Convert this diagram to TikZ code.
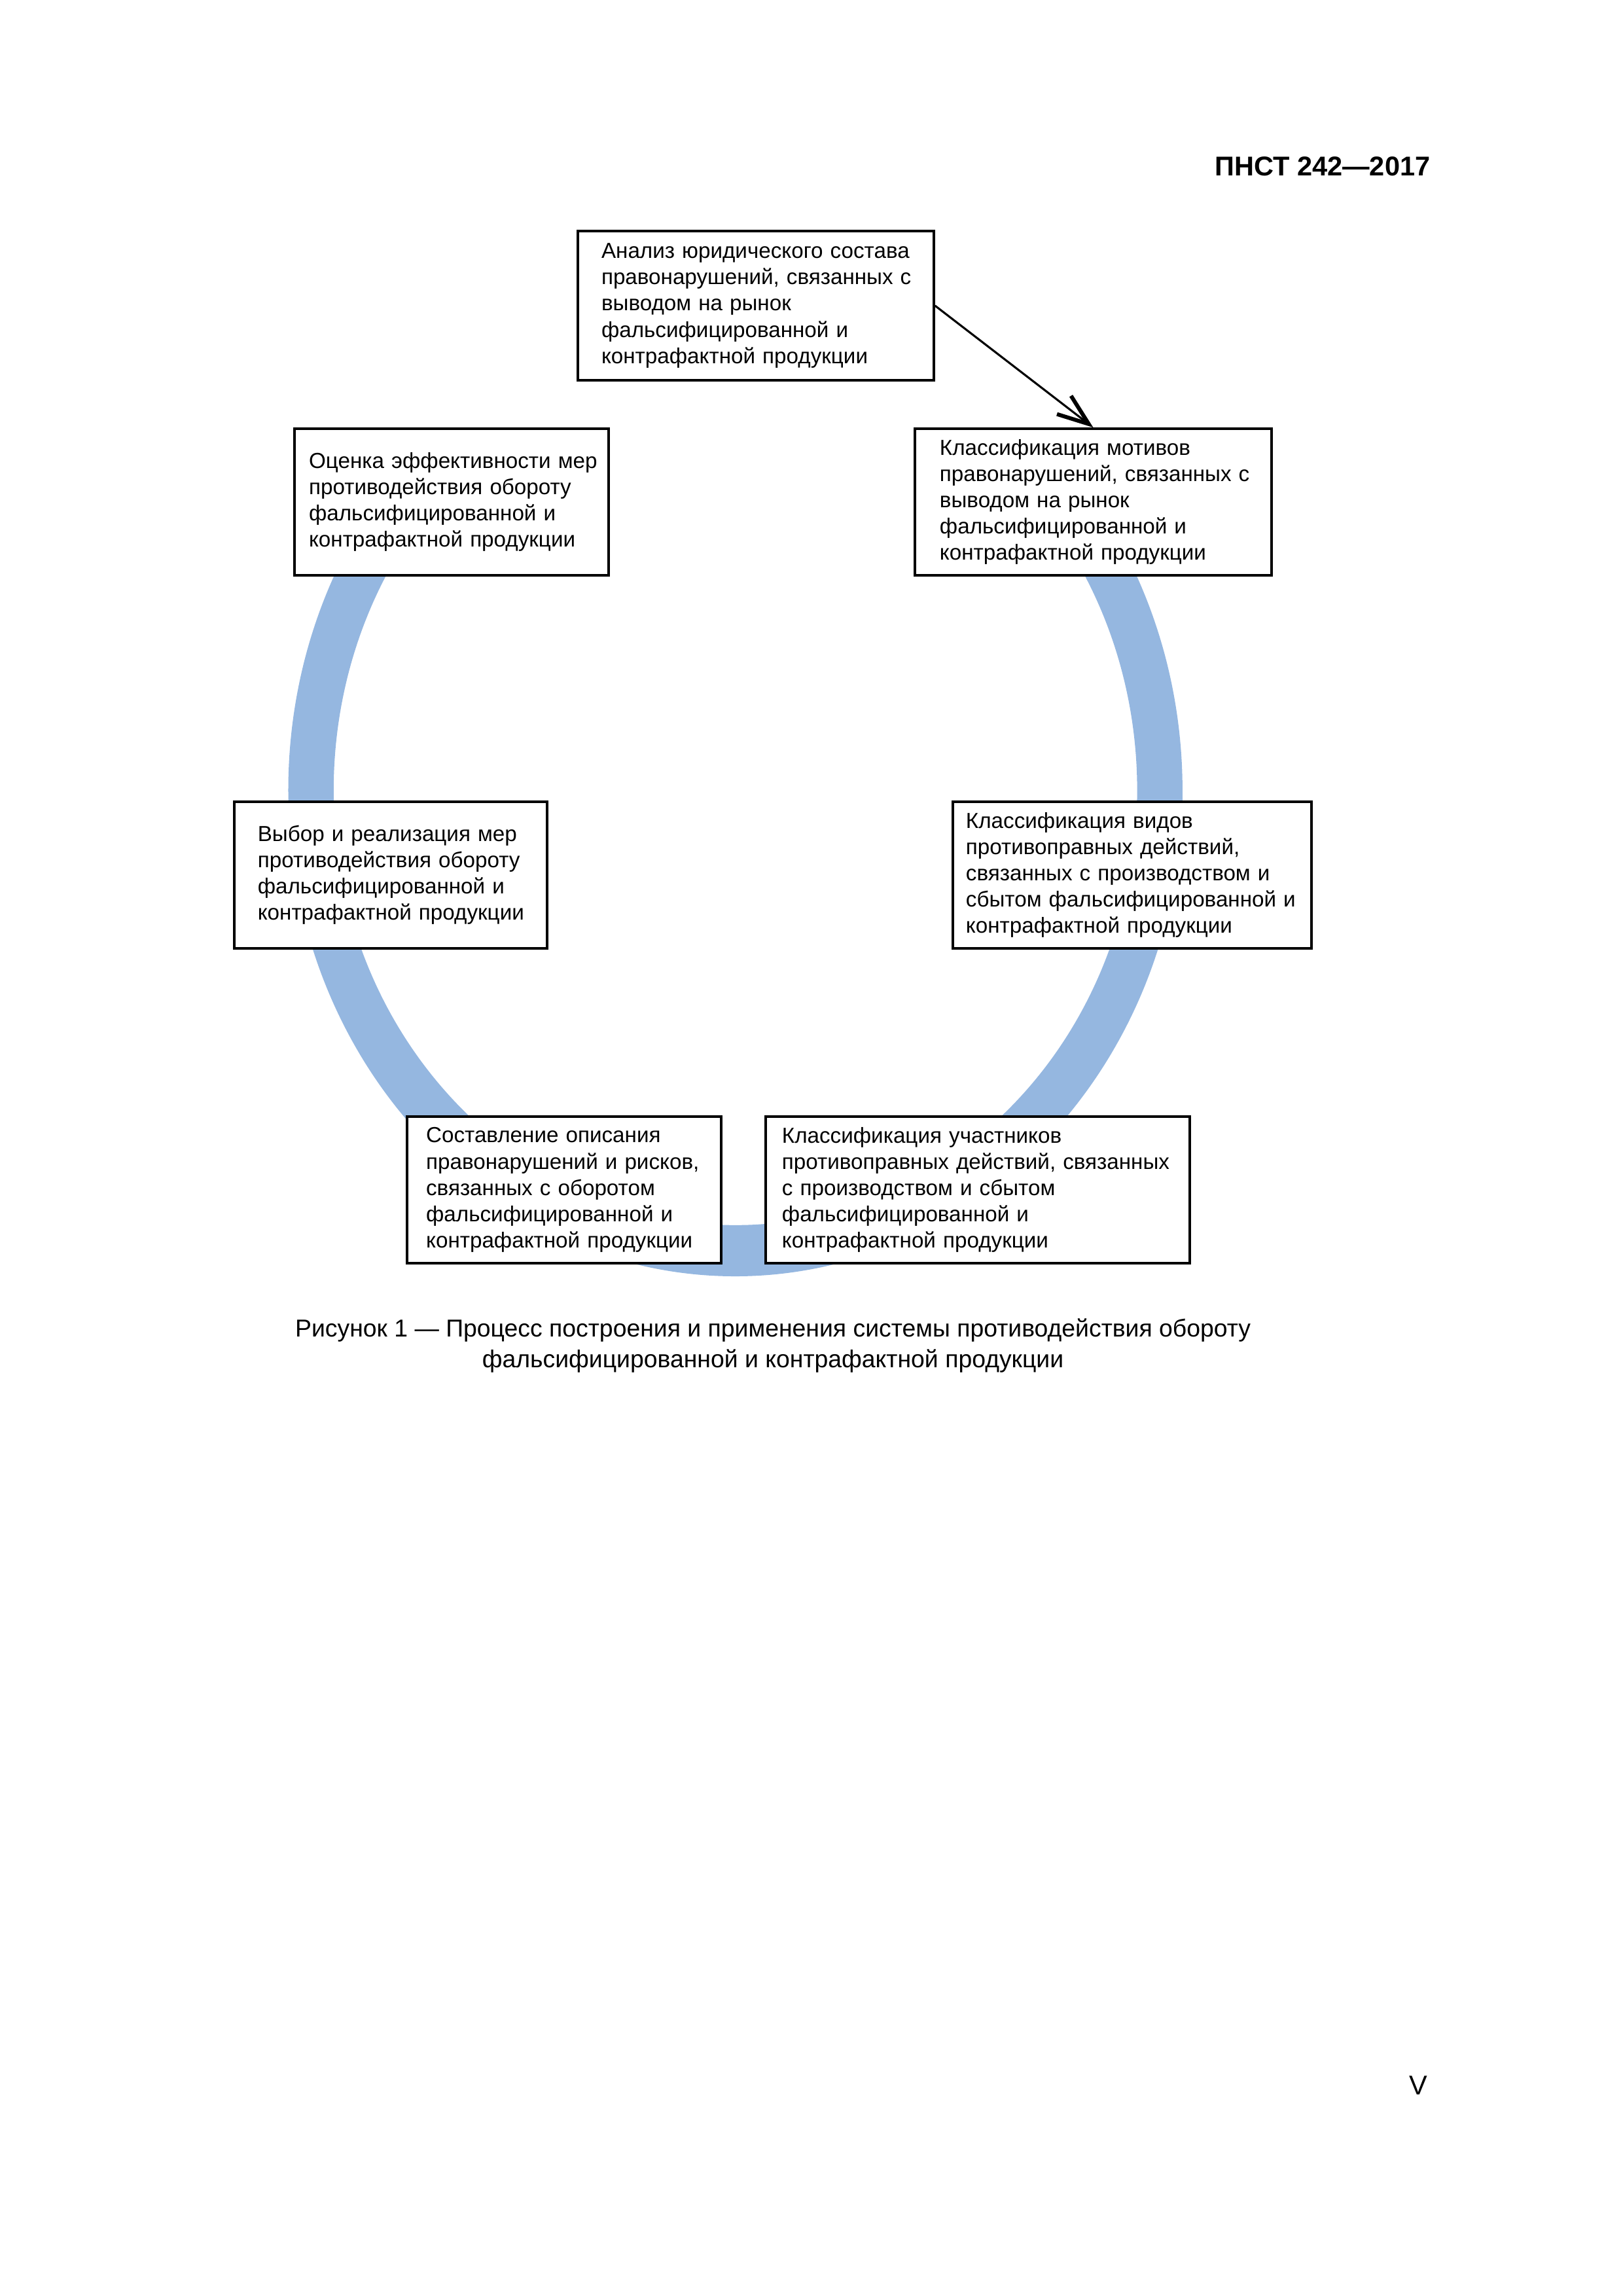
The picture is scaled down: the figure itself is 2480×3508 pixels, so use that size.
\documentclass[tikz,border=0pt]{standalone}
\usepackage{fontspec}
\setmainfont{Liberation Sans}
\usetikzlibrary{arrows.meta,calc}
\definecolor{ringblue}{RGB}{149,183,224}
\newcommand\mb[1]{\mbox{#1}}
\begin{document}
\begin{tikzpicture}[x=0.084667mm,y=-0.084667mm,
  box/.style n args={2}{draw, line width=0.85pt, fill=white, rectangle, align=left,
    font=\fontsize{8pt}{9.66pt}\selectfont, minimum height=54pt, inner ysep=0pt,
    text width=#1, inner xsep=#2},
  caption/.style={font=\fontsize{9pt}{11.3pt}\selectfont, align=center},
]
\path[use as bounding box] (0,0) rectangle (2480,3508);

% ring
\coordinate (O) at (1123.7,1207.6);
\fill[ringblue] ($(O)+(220:683.2 and 742.4)$)
  arc[start angle=220, end angle=-40, x radius=683.2, y radius=742.4]
  -- ($(O)+(-40:613.9 and 664.2)$)
  arc[start angle=-40, end angle=220, x radius=613.9, y radius=664.2]
  -- cycle;

% boxes
\node[box={113.7pt}{8.67pt}, minimum height=54.9pt] (A) at (1155,467)
  {\mb{Анализ юридического состава}\\ \mb{правонарушений, связанных с}\\ \mb{выводом на рынок}\\ \mb{фальсифицированной и}\\ \mb{контрафактной продукции}};
\node[box={105.0pt}{5.3pt}] (B) at (690,767)
  {\mb{Оценка эффективности мер}\\ \mb{противодействия обороту}\\ \mb{фальсифицированной и}\\ \mb{контрафактной продукции}};
\node[box={113.0pt}{9.15pt}] (C) at (1670.5,767)
  {\mb{Классификация мотивов}\\ \mb{правонарушений, связанных с}\\ \mb{выводом на рынок}\\ \mb{фальсифицированной и}\\ \mb{контрафактной продукции}};
\node[box={97.9pt}{8.67pt}] (D) at (597,1337)
  {\mb{Выбор и реализация мер}\\ \mb{противодействия обороту}\\ \mb{фальсифицированной и}\\ \mb{контрафактной продукции}};
\node[box={122.4pt}{4.8pt}] (E) at (1730,1337)
  {\mb{Классификация видов}\\ \mb{противоправных действий,}\\ \mb{связанных с производством и}\\ \mb{сбытом фальсифицированной и}\\ \mb{контрафактной продукции}};
\node[box={101.6pt}{7.0pt}] (F) at (862,1818)
  {\mb{Составление описания}\\ \mb{правонарушений и рисков,}\\ \mb{связанных с оборотом}\\ \mb{фальсифицированной и}\\ \mb{контрафактной продукции}};
\node[box={144.1pt}{6.0pt}] (G) at (1494,1818)
  {\mb{Классификация участников}\\ \mb{противоправных действий, связанных}\\ \mb{с производством и сбытом}\\ \mb{фальсифицированной и}\\ \mb{контрафактной продукции}};

% arrow
\draw[line width=0.75pt, -{Straight Barb[length=11.5pt,width=8.5pt,line width=1.45pt]}] (A.east) -- (C.north);

% header, caption, page number
\node[font=\bfseries\fontsize{10pt}{12pt}\selectfont, anchor=base east] (hdr) at (2200,268) {ПНСТ 242—2017};
\node[caption] (cap) at (1181,2056) {Рисунок 1 — Процесс построения и применения системы противодействия обороту\\ фальсифицированной и контрафактной продукции};
\node[font=\fontsize{10pt}{12pt}\selectfont, anchor=base] (pg) at (2167,3200) {V};
\end{tikzpicture}
\end{document}
